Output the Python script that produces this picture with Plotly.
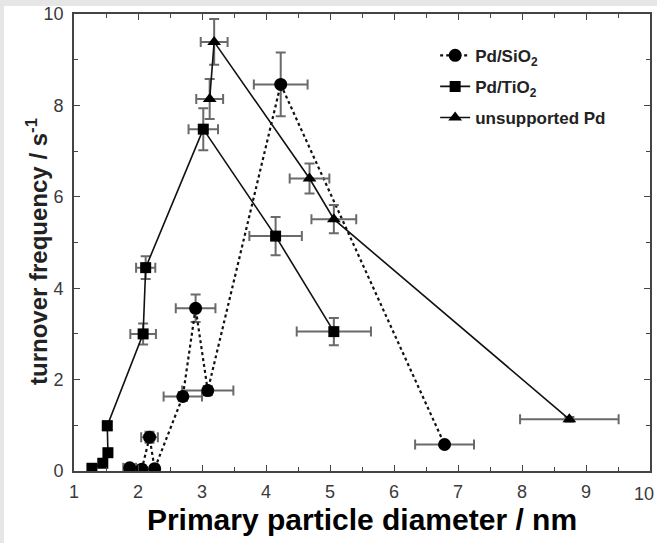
import plotly.graph_objects as go

# Pd/SiO2 catalysts
sio2_d = [1.87, 2.06, 2.18, 2.26, 2.70, 2.90, 3.09, 4.23, 6.79]
sio2_tof = [0.07, 0.04, 0.74, 0.05, 1.63, 3.56, 1.76, 8.46, 0.58]
sio2_d_err = [0.10, 0.05, 0.13, 0.05, 0.30, 0.31, 0.40, 0.42, 0.46]
sio2_tof_err = [0.05, 0.03, 0.12, 0.03, 0.10, 0.30, 0.10, 0.70, 0.05]

# Pd/TiO2 catalysts
tio2_d = [1.28, 1.45, 1.53, 1.52, 2.08, 2.12, 3.02, 4.15, 5.06]
tio2_tof = [0.06, 0.17, 0.40, 0.99, 3.00, 4.45, 7.48, 5.14, 3.05]
tio2_d_err = [0.05, 0.05, 0.05, 0.05, 0.20, 0.15, 0.23, 0.41, 0.58]
tio2_tof_err = [0.05, 0.05, 0.08, 0.10, 0.23, 0.25, 0.46, 0.42, 0.30]

# unsupported Pd
pd_d = [3.12, 3.19, 4.68, 5.06, 8.74]
pd_tof = [8.14, 9.39, 6.40, 5.51, 1.13]
pd_d_err = [0.21, 0.21, 0.31, 0.35, 0.77]
pd_tof_err = [0.44, 0.50, 0.33, 0.31, 0.05]

x_ticks = list(range(1, 11))
y_ticks = [0, 2, 4, 6, 8, 10]

LINE = "#111111"
ERR = "#6a6a6a"
AXIS = "#444444"
TICK_TXT = "#3a3a3a"
FONT = "Liberation Sans, Arial, sans-serif"

# plot-area geometry in pixels
W, H = 657, 543
ML, MR, MT, MB = 74, 7, 14, 72
PW, PH = W - ML - MR, H - MT - MB


def px_x(p):
    return (p - ML) / PW


def px_y(p):
    return (H - MB - p) / PH


def err(vals):
    return dict(type="data", array=vals, visible=True, color=ERR,
                thickness=2, width=5)


series = [
    ("Pd/SiO<sub>2</sub>", sio2_d, sio2_tof, sio2_d_err, sio2_tof_err,
     "circle", 13, "dot"),
    ("Pd/TiO<sub>2</sub>", tio2_d, tio2_tof, tio2_d_err, tio2_tof_err,
     "square", 11, "solid"),
    ("unsupported Pd", pd_d, pd_tof, pd_d_err, pd_tof_err,
     "triangle-up", 12, "solid"),
]

fig = go.Figure()
for i, (name, xs, ys, xe, ye, sym, size, dash) in enumerate(series):
    fig.add_trace(go.Scatter(
        x=xs, y=ys, name=name, mode="lines+markers",
        legendgroup=f"g{i}",
        line=dict(color=LINE, width=1.6 if dash == "solid" else 2.2, dash=dash),
        marker=dict(symbol=sym, size=size, color="#000000"),
        error_x=err(xe), error_y=err(ye),
    ))

axis_common = dict(
    showline=True, linecolor=AXIS, linewidth=1.6, mirror="allticks",
    ticks="inside", ticklen=6, tickwidth=1.4, tickcolor=AXIS,
    showgrid=False, zeroline=False, automargin=False,
    tickfont=dict(family=FONT, size=18, color=TICK_TXT),
)

# the last x label sits against the page edge, so it is placed separately
fig.update_xaxes(
    range=[1, 10], tickvals=x_ticks,
    ticktext=[str(v) for v in x_ticks[:-1]] + [""],
    ticklabelstandoff=4,
    minor=dict(dtick=0.5, ticks="inside", ticklen=4, tickcolor=AXIS,
               tickwidth=1.2, showgrid=False),
    title=dict(text="<b>Primary particle diameter / nm</b>", standoff=8,
               font=dict(family=FONT, size=30, color="#000000")),
    **axis_common,
)
fig.update_yaxes(
    range=[0, 10], tickvals=y_ticks, ticklabelstandoff=5,
    minor=dict(dtick=1, ticks="inside", ticklen=4, tickcolor=AXIS,
               tickwidth=1.2, showgrid=False),
    **axis_common,
)

fig.update_layout(
    width=W, height=H,
    margin=dict(l=ML, r=MR, t=MT, b=MB, pad=0),
    paper_bgcolor="white", plot_bgcolor="white",
    showlegend=True,
    legend=dict(
        x=0.627, y=0.948, xanchor="left", yanchor="top",
        bgcolor="rgba(0,0,0,0)", tracegroupgap=6,
        font=dict(family=FONT, size=17, color="#222222", weight="bold"),
    ),
    annotations=[
        # y-axis title, placed close to the tick labels
        dict(text="<b>turnover frequency / s<sup>-1</sup></b>",
             xref="paper", yref="paper", x=px_x(37), y=px_y(252),
             xanchor="center", yanchor="middle", textangle=-90,
             showarrow=False,
             font=dict(family=FONT, size=24, color="#222222")),
        # label of the last x tick, kept inside the page
        dict(text=str(x_ticks[-1]), xref="x", yref="paper",
             x=x_ticks[-1], y=px_y(H - MB + 11), xanchor="right",
             yanchor="top", xshift=6, showarrow=False,
             font=dict(family=FONT, size=18, color=TICK_TXT)),
    ],
    # thin grey frame along the top and left page edges
    shapes=[
        dict(type="rect", xref="paper", yref="paper", layer="above",
             x0=px_x(0), x1=px_x(W), y0=px_y(6), y1=px_y(0),
             fillcolor="#e6e6e6", line=dict(width=0)),
        dict(type="rect", xref="paper", yref="paper", layer="above",
             x0=px_x(0), x1=px_x(4), y0=px_y(H), y1=px_y(0),
             fillcolor="#e6e6e6", line=dict(width=0)),
    ],
)

fig.write_html("out.html")
